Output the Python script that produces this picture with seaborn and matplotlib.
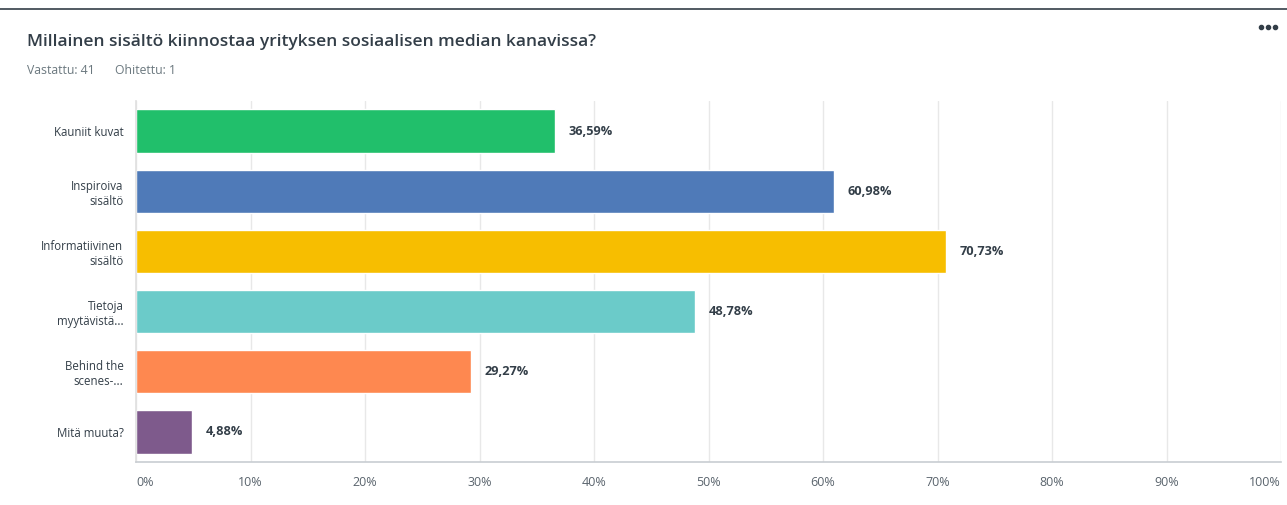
import matplotlib
matplotlib.use("Agg")
import matplotlib.pyplot as plt
import seaborn as sns
import pandas as pd
from matplotlib.lines import Line2D

categories = ["Kauniit kuvat", "Inspiroiva\nsisältö", "Informatiivinen\nsisältö",
              "Tietoja\nmyytävistä...", "Behind the\nscenes-...", "Mitä muuta?"]
values = [36.59, 60.98, 70.73, 48.78, 29.27, 4.88]
colors = ["#21bf6b", "#4f7ab8", "#f7be00", "#6bcbc9", "#fe8850", "#7e5a8c"]
ticks = [0, 10, 20, 30, 40, 50, 60, 70, 80, 90, 100]

sns.set_theme(style="white")
plt.rcParams['font.family'] = ['Open Sans', 'DejaVu Sans']

df = pd.DataFrame({"cat": categories, "val": values})

fig = plt.figure(figsize=(12.87, 5.05), dpi=100)
W, H = 1287, 505
ax = fig.add_axes([136 / W, 1 - 462 / H, (1281 - 136) / W, (462 - 101) / H])

sns.barplot(data=df, x="val", y="cat", hue="cat", palette=colors, order=categories,
            hue_order=categories, legend=False, width=0.72, ax=ax, saturation=1)

ax.set_xlim(0, 100)
ax.set_ylim(5.5, -0.5)
ax.set_xticks(ticks)
ax.set_xticklabels([f"{t}%" for t in ticks])
for t, lab in zip(ticks, ax.get_xticklabels()):
    if t == 0:
        lab.set_ha("left")
    elif t == 100:
        lab.set_ha("right")
ax.tick_params(axis="x", length=0, pad=10, labelsize=9, labelcolor="#5a646d")
ax.tick_params(axis="y", length=0, pad=9, labelsize=8.3, labelcolor="#333e48")
for lab in ax.get_yticklabels():
    lab.set_ha("right")
    lab.set_multialignment("right")
ax.set_xlabel("")
ax.set_ylabel("")
ax.grid(axis="x", color="#e8e8e8", linewidth=1)
ax.set_axisbelow(True)
for s in ["top", "right"]:
    ax.spines[s].set_visible(False)
ax.spines["left"].set_color("#e0e0e0")
ax.spines["bottom"].set_color("#c8cdd2")
ax.spines["bottom"].set_linewidth(1.2)

for i, v in enumerate(values):
    ax.text(v + 1.2, i, f"{v:.2f}%".replace(".", ","), va="center", ha="left",
            fontsize=9.2, fontweight="bold", color="#333e48")

fig.text(27 / W, 1 - 42 / H, "Millainen sisältö kiinnostaa yrityksen sosiaalisen median kanavissa?",
         fontsize=12.5, fontweight="semibold", color="#333e48", va="center", ha="left")
fig.text(27 / W, 1 - 70 / H, "Vastattu: 41", fontsize=8.8, color="#6b787f", va="center", ha="left")
fig.text(115 / W, 1 - 70 / H, "Ohitettu: 1", fontsize=8.8, color="#6b787f", va="center", ha="left")
for dx in (1261, 1268, 1275):
    fig.add_artist(Line2D([dx / W], [1 - 27 / H], transform=fig.transFigure, marker="o",
                          markersize=3.0, color="#333e48", linestyle="none"))

fig.add_artist(Line2D([0, 1], [1 - 9 / H, 1 - 9 / H], transform=fig.transFigure,
                      color="#333e48", linewidth=1.2))

fig.savefig("out.png", dpi=100)
